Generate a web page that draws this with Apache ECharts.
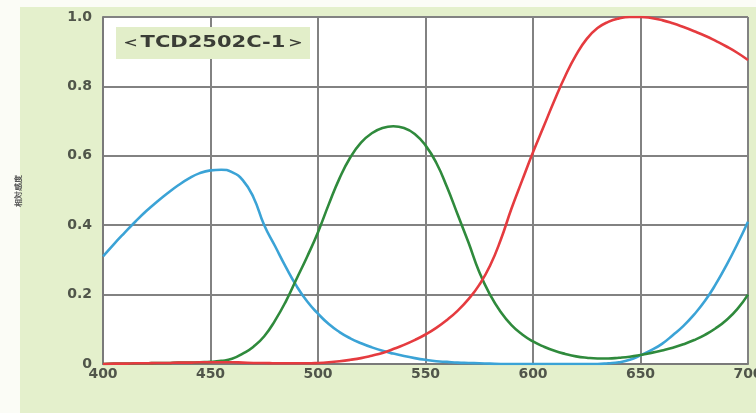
<!DOCTYPE html>
<html>
<head>
<meta charset="utf-8">
<script src="https://cdn.jsdelivr.net/npm/echarts@6/dist/echarts.min.js"></script>
<style>
  html, body { margin: 0; padding: 0; background: #fbfcf6; }
  #chart { width: 756px; height: 413px; }
</style>
</head>
<body>
<div id="chart"></div>
<script>
// Wavelength samples (nm)
const wavelengths = [400,405,410,415,420,425,430,435,440,445,450,455,460,465,470,475,480,485,490,495,
  500,505,510,515,520,525,530,535,540,545,550,555,560,565,570,575,580,585,590,595,
  600,605,610,615,620,625,630,635,640,645,650,655,660,665,670,675,680,685,690,695,700];

// Relative sensitivity, blue channel
const blueValues = [0.31,0.345,0.378,0.41,0.44,0.467,0.492,0.515,0.535,0.55,0.558,0.56,0.553,0.53,0.48,0.4,0.34,0.28,0.225,0.18,
  0.145,0.115,0.092,0.074,0.06,0.048,0.038,0.03,0.023,0.017,0.012,0.008,0.006,0.004,0.003,0.002,0.001,0,0,0,
  0,0,0,0,0,0,0,0.002,0.005,0.012,0.025,0.04,0.058,0.083,0.11,0.143,0.182,0.23,0.285,0.345,0.41];

// Relative sensitivity, green channel
const greenValues = [0,0.001,0.001,0.002,0.002,0.003,0.003,0.004,0.004,0.005,0.006,0.009,0.015,0.03,0.05,0.08,0.125,0.18,0.245,0.31,
  0.38,0.46,0.535,0.595,0.638,0.665,0.68,0.685,0.68,0.663,0.63,0.58,0.51,0.43,0.35,0.265,0.2,0.15,0.112,0.085,
  0.065,0.05,0.038,0.029,0.022,0.018,0.016,0.016,0.018,0.021,0.026,0.032,0.039,0.047,0.057,0.069,0.084,0.103,0.127,0.158,0.2];

// Relative sensitivity, red channel
const redValues = [0,0.001,0.001,0.002,0.002,0.003,0.003,0.004,0.004,0.005,0.005,0.005,0.005,0.004,0.003,0.003,0.002,0.002,0.002,0.002,
  0.003,0.005,0.008,0.012,0.017,0.024,0.032,0.043,0.055,0.069,0.085,0.104,0.127,0.154,0.187,0.228,0.283,0.358,0.448,0.53,
  0.61,0.685,0.76,0.83,0.89,0.937,0.968,0.986,0.996,1.0,1.0,0.997,0.991,0.982,0.971,0.959,0.946,0.931,0.915,0.897,0.876];

const yTickLabels = { 0: '0', 0.2: '0.2', 0.4: '0.4', 0.6: '0.6', 0.8: '0.8', 1: '1.0' };
const modelLabel = '＜TCD2502C-1＞';
const yAxisTitle = '相対感度';

const pairs = vals => wavelengths.map((w, i) => [w, vals[i]]);

const chart = echarts.init(document.getElementById('chart'), null, { renderer: 'canvas' });

const lineSeries = (name, vals, color) => ({
  name, type: 'line', data: pairs(vals), smooth: 0.5, showSymbol: false, symbol: 'none',
  lineStyle: { color, width: 2.6 }, z: 5, animation: false
});

const labelFont = '"DejaVu Sans", "Liberation Sans", Arial, sans-serif';

chart.setOption({
  animation: false,
  backgroundColor: '#fbfcf6',
  graphic: [
    { type: 'rect', x: 20, y: 7, shape: { width: 736, height: 406 },
      style: { fill: '#e4f0cc' }, z: -10, silent: true },
    { type: 'rect', x: 104, y: 18, shape: { width: 644, height: 346 },
      style: { fill: '#ffffff' }, z: -9, silent: true },
    { type: 'rect', x: 116, y: 27, shape: { width: 194, height: 32 },
      style: { fill: '#e2eec9' }, z: 20, silent: true },
    { type: 'text', x: 213, y: 43, scaleX: 1.4, originX: 0, originY: 0,
      style: { text: modelLabel, font: 'bold 15px ' + labelFont, fill: '#3a3d36',
        align: 'center', verticalAlign: 'middle' }, z: 21, silent: true }
  ],
  grid: { left: 103, right: 8, top: 17, bottom: 49, containLabel: false, outerBoundsMode: 'none', show: false },
  xAxis: {
    type: 'value', min: 400, max: 700, interval: 50,
    axisLine: { show: true, onZero: false, lineStyle: { color: '#7a7a7a', width: 2 } },
    axisTick: { show: false },
    axisLabel: { color: '#50554a', fontSize: 14, fontWeight: 'bold', margin: 3,
      fontFamily: labelFont, showMaxLabel: true, hideOverlap: false },
    splitLine: { show: true, lineStyle: { color: '#828282', width: 2 } }
  },
  yAxis: {
    type: 'value', min: 0, max: 1, interval: 0.2,
    name: yAxisTitle, nameLocation: 'middle', nameRotate: 90, nameGap: 80,
    nameTextStyle: { fontSize: 8, color: '#555', fontWeight: 'bold' },
    axisLine: { show: true, lineStyle: { color: '#7a7a7a', width: 2 } },
    axisTick: { show: false },
    axisLabel: { color: '#50554a', fontSize: 14, fontWeight: 'bold', margin: 11,
      fontFamily: labelFont,
      formatter: v => yTickLabels[Math.round(v * 10) / 10] },
    splitLine: { show: true, lineStyle: { color: '#828282', width: 2 } }
  },
  series: [
    lineSeries('Blue', blueValues, '#3ba3d6'),
    lineSeries('Green', greenValues, '#2f8a3c'),
    lineSeries('Red', redValues, '#e53b3f')
  ]
});
</script>
</body>
</html>
